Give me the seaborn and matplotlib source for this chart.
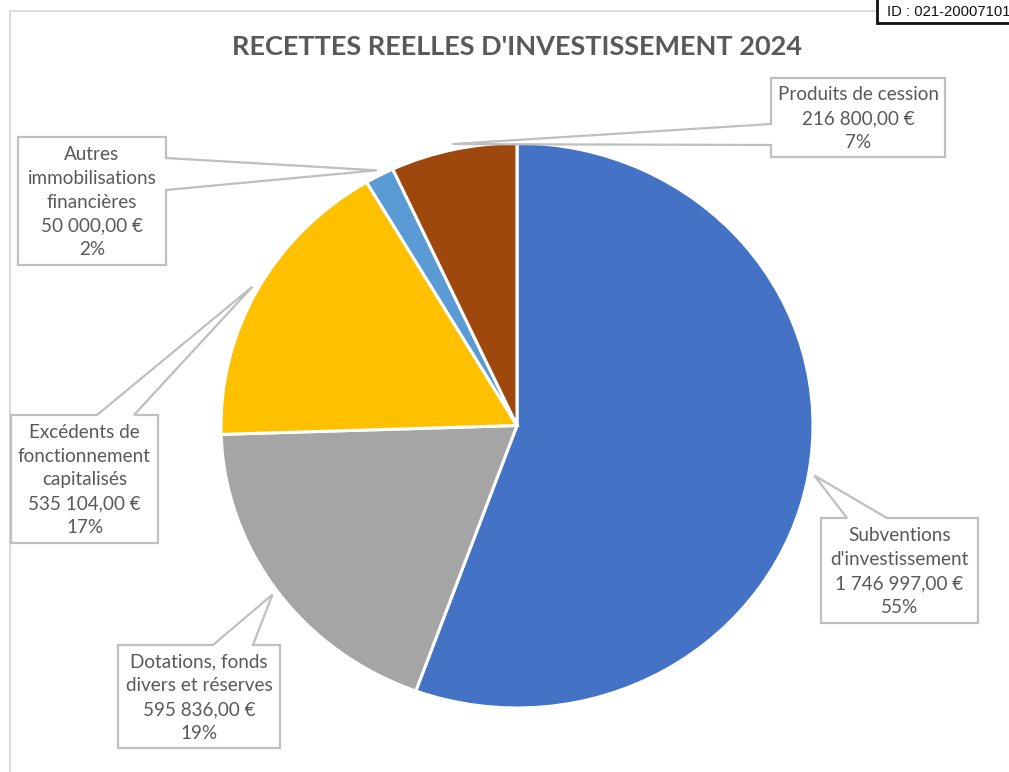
import numpy as np
import matplotlib
matplotlib.use("Agg")
import matplotlib.pyplot as plt
from matplotlib.patches import Polygon, Rectangle
from matplotlib.lines import Line2D
import seaborn as sns

# ---- data -------------------------------------------------------------
categories = [
    "Subventions\nd'investissement",
    "Dotations, fonds\ndivers et réserves",
    "Excédents de\nfonctionnement\ncapitalisés",
    "Autres\nimmobilisations\nfinancières",
    "Produits de cession",
]
amounts = [1746997.00, 595836.00, 535104.00, 50000.00, 216800.00]
percent_labels = ["55%", "19%", "17%", "2%", "7%"]
slice_colors = ["#4472C4", "#A5A5A5", "#FFC000", "#5B9BD5", "#9E480E"]
title = "RECETTES REELLES D'INVESTISSEMENT 2024"
stamp = "ID : 021-20007101"

# ---- layout (pixels, origin top-left) -----------------------------------
W, H = 1009, 772
# callout boxes: (left, top, right, bottom), side carrying the pointer, pointer base span
callouts = [
    ((821, 518, 978, 623), "top", (847, 887)),
    ((118, 645, 280, 748), "top", (213, 253)),
    ((11, 415, 158, 543), "top", (97, 134)),
    ((18, 137, 166, 265), "right", (158, 190)),
    ((771, 78, 945, 157), "left", (124, 145)),
]
TEXT_GREY = "#595959"
EDGE_GREY = "#BFBFBF"


def fx(x):
    return x / W


def fy(y):
    return 1 - y / H


def fmt_eur(v):
    s = f"{v:,.2f}"
    s = s.replace(",", " ").replace(".", ",")
    return s + " €"


sns.set_theme(style="white")
plt.rcParams["font.family"] = ["Lato", "DejaVu Sans"]

fig = plt.figure(figsize=(W / 100, H / 100), dpi=100)
fig.patch.set_facecolor("white")
renderer = fig.canvas.get_renderer()

# ---- pie ---------------------------------------------------------------
ax = fig.add_axes([fx(221), fy(708), 592 / W, 565 / H])
wedges, _ = ax.pie(
    amounts,
    colors=slice_colors,
    startangle=90,
    counterclock=False,
    wedgeprops=dict(edgecolor="white", linewidth=2.2),
)
ax.set_aspect("auto")
ax.set_xlim(-1, 1)
ax.set_ylim(-1, 1)
ax.axis("off")

# ---- chart area frame ----------------------------------------------------
fig.add_artist(Line2D([fx(9.5), fx(9.5)], [fy(11), fy(772)], transform=fig.transFigure,
                      color="#D9D9D9", lw=1.3))
fig.add_artist(Line2D([fx(9.5), fx(877)], [fy(11), fy(11)], transform=fig.transFigure,
                      color="#D9D9D9", lw=1.3))

# ---- title (sized to span the header width) ------------------------------
t = fig.text(fx(517.5), fy(47), title, ha="center", va="center", fontsize=18,
             fontweight="bold", color=TEXT_GREY)
w = t.get_window_extent(renderer).width
t.set_fontsize(18 * 571 / w)

# ---- label font size from the widest single line --------------------------
probe = fig.text(0, 0, "Produits de cession", fontsize=12)
label_fs = 12 * 160 / probe.get_window_extent(renderer).width
probe.remove()

# ---- callouts ------------------------------------------------------------
inv = fig.transFigure.inverted()
for wedge, cat, amt, pct, (box, side, base) in zip(
        wedges, categories, amounts, percent_labels, callouts):
    theta = np.deg2rad((wedge.theta1 + wedge.theta2) / 2)
    cx, cy = wedge.center
    r = wedge.r * 1.02
    tip = inv.transform(ax.transData.transform((cx + r * np.cos(theta), cy + r * np.sin(theta))))

    l, tp, rt, b = box
    L, T, R, B = fx(l), fy(tp), fx(rt), fy(b)
    if side == "top":
        pts = [(L, T), (fx(base[0]), T), tuple(tip), (fx(base[1]), T), (R, T), (R, B), (L, B)]
    elif side == "right":
        pts = [(L, T), (R, T), (R, fy(base[0])), tuple(tip), (R, fy(base[1])), (R, B), (L, B)]
    else:  # left
        pts = [(L, T), (R, T), (R, B), (L, B), (L, fy(base[1])), tuple(tip), (L, fy(base[0]))]
    fig.add_artist(Polygon(pts, closed=True, transform=fig.transFigure, facecolor="white",
                           edgecolor=EDGE_GREY, lw=1.6, zorder=5))

    lines = cat.split("\n") + [fmt_eur(amt), pct]
    step = 23.8
    mid = (tp + b) / 2 + 1
    y0 = mid - step * (len(lines) - 1) / 2
    for i, line in enumerate(lines):
        fig.text(fx((l + rt) / 2), fy(y0 + i * step), line, ha="center", va="center",
                 fontsize=label_fs, color=TEXT_GREY, zorder=6)

# ---- reference stamp, top right ---------------------------------------------
fig.add_artist(Rectangle((fx(877), fy(23)), fx(1020) - fx(877), fy(-5) - fy(23),
                         transform=fig.transFigure, facecolor="white", edgecolor="#111111",
                         lw=2, zorder=7))
fig.text(fx(887), fy(12), stamp, ha="left", va="center", fontsize=10.6,
         family=["Liberation Sans", "DejaVu Sans"], color="#111111", zorder=8)

fig.savefig("out.png", dpi=100)
